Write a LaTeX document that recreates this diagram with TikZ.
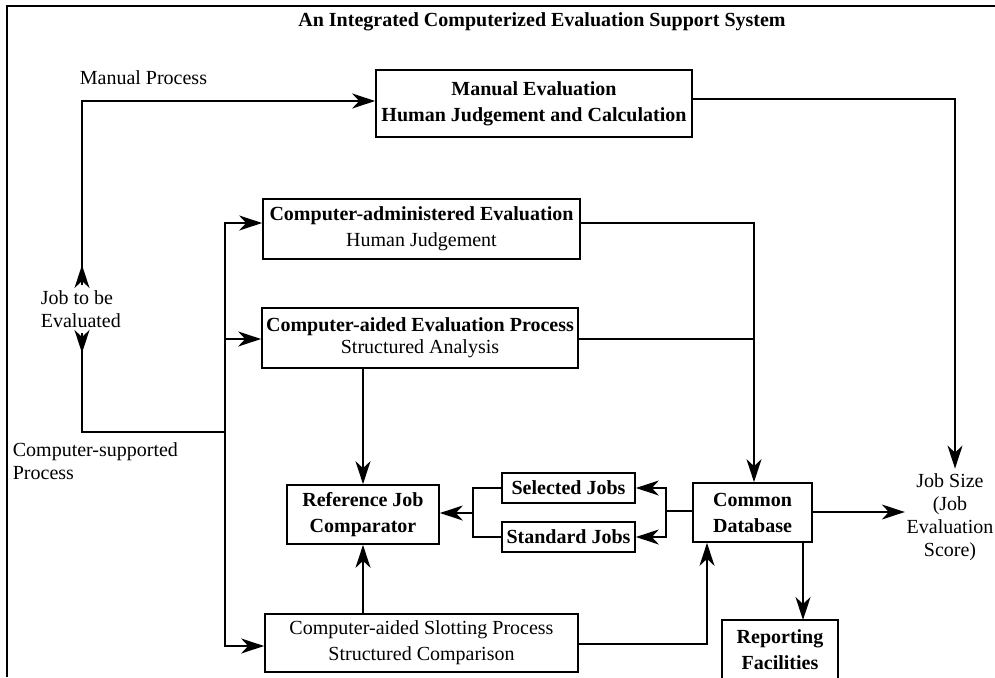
\documentclass[tikz,border=0pt]{standalone}
\usepackage{fontspec}
\setmainfont{Liberation Serif}
\usetikzlibrary{arrows.meta}
\begin{document}
\begin{tikzpicture}[x=1pt,y=-1pt,line width=1.7pt,
  every node/.style={font=\fontsize{20}{23}\selectfont, inner sep=0pt},
  box/.style={draw, line width=1.7pt, align=center, font=\fontsize{20}{26}\selectfont},
  bbox/.style={box, font=\fontsize{20}{26}\selectfont\bfseries},
  lbl/.style={align=left, anchor=west},
  tip/.style={-{Stealth[length=23pt,width=15pt,inset=7pt]}}]
\useasboundingbox (0,0) rectangle (995,677);

% frame
\draw[line width=2.6pt] (995,6) -- (7,6) -- (7,677);

% title and free labels
\node[font=\fontsize{20}{23}\selectfont\bfseries] (title) at (542,22) {An Integrated Computerized Evaluation Support System};
\node[lbl] (manproc) at (79,78) {Manual Process};
\node[lbl] (job) at (40,309) {Job to be\\Evaluated};
\node[lbl] (compsup) at (12,461) {Computer-supported\\Process};
\node[align=center] (jobsize) at (950,517) {Job Size\\(Job\\Evaluation\\Score)};

% boxes
\node[box, minimum width=316pt, minimum height=67pt] (manual) at (534,103.5)
  {\bfseries Manual Evaluation\\\bfseries Human Judgement and Calculation};
\node[box, minimum width=317pt, minimum height=60pt] (cadm) at (421.5,229)
  {\bfseries Computer-administered Evaluation\\Human Judgement};
\node[box, minimum width=316pt, minimum height=60pt] (caided) at (420,338)
  {\bfseries Computer-aided Evaluation Process\\[-4pt]Structured Analysis};
\node[box, minimum width=313pt, minimum height=58pt] (slot) at (421.5,643)
  {Computer-aided Slotting Process\\Structured Comparison};
\node[bbox, minimum width=152pt, minimum height=59pt] (ref) at (363,514.5)
  {Reference Job\\Comparator};
\node[bbox, minimum width=133pt, minimum height=30pt] (sel) at (568.5,488) {Selected Jobs};
\node[bbox, minimum width=133pt, minimum height=30pt] (std) at (568.5,537) {Standard Jobs};
\node[bbox, minimum width=119pt, minimum height=59pt] (cdb) at (752.5,512.5)
  {Common\\Database};
\node[bbox, draw=none, minimum width=114pt, minimum height=57pt, anchor=north] (rep) at (780,620)
  {Reporting\\Facilities};
\draw (rep.south west) -- (rep.north west) -- (rep.north east) -- (rep.south east);

% branching points
\coordinate (jobup) at (82,285);
\coordinate (jobupend) at (82,265);
\coordinate (jobdown) at (82,333);
\coordinate (jobdownend) at (82,353);
\coordinate (bus) at (225,432);
\coordinate (fork) at (666,511);
\coordinate (join) at (473,513);
\coordinate (dbtop) at ([xshift=1.5pt]cdb.north);

% manual route
\draw[tip] (jobup) -- (jobupend);
\draw[tip] (jobup) |- ([yshift=2.5pt]manual.west);
\draw[tip] ([yshift=4.5pt]manual.east) -| ([xshift=5pt,yshift=4pt]jobsize.north);

% computer-supported route
\draw[tip] (jobdown) -- (jobdownend);
\draw (jobdown) |- (bus);
\draw[tip] (bus) |- ([yshift=6pt]cadm.west);
\draw[tip] (bus) |- ([yshift=-1pt]caided.west);
\draw[tip] (bus) |- ([yshift=-3pt]slot.west);

% into the common database
\draw[tip] ([yshift=6pt]cadm.east) -| (dbtop);
\draw ([yshift=-1pt]caided.east) -- ([yshift=-1pt]caided.east -| dbtop);
\draw[tip] ([yshift=-1pt]slot.east) -| ([xshift=-45.5pt]cdb.south);

% reference job comparator
\draw[tip] (ref.north |- caided.south) -- (ref.north);
\draw[tip] (ref.south |- slot.north) -- (ref.south);

% database outputs
\draw (cdb.west |- fork) -- (fork);
\draw[tip] (fork) |- (sel.east);
\draw[tip] (fork) |- (std.east);
\draw (sel.west) -| (join);
\draw (std.west) -| (join);
\draw[tip] (join) -- (join -| ref.east);
\draw[tip] ([yshift=0.5pt]cdb.east) -- ([xshift=-1pt,yshift=0.5pt]cdb.east -| jobsize.west);
\draw[tip] ([xshift=50.5pt]cdb.south) -- ([xshift=50.5pt]cdb.south |- rep.north);
\end{tikzpicture}
\end{document}
